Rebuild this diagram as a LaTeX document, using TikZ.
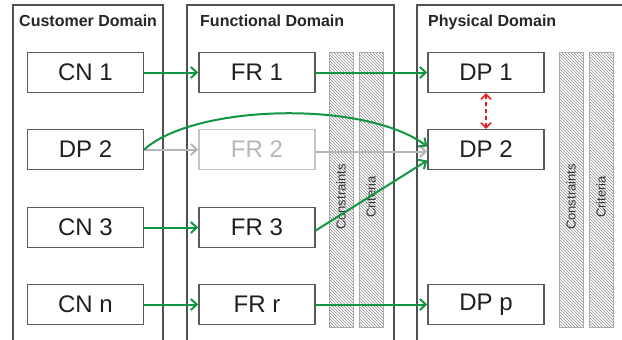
\documentclass[tikz,border=0pt]{standalone}
\usepackage{fontspec}
\setmainfont{Liberation Sans}
\usetikzlibrary{arrows.meta,patterns,calc}
\definecolor{grn}{RGB}{16,150,64}
\definecolor{framec}{RGB}{80,80,80}
\definecolor{boxc}{RGB}{90,90,90}
\definecolor{fade}{RGB}{182,182,182}
\definecolor{hatchc}{RGB}{140,140,140}
\definecolor{hatchb}{RGB}{170,170,170}
\definecolor{redc}{RGB}{230,30,30}
\begin{document}
\begin{tikzpicture}[x=1pt,y=-1pt,
  itembox/.style={draw=boxc, line width=1.4pt, minimum width=116pt, minimum height=40pt, inner sep=0pt, font=\fontsize{24}{28}\selectfont, text=black!88},
  fadebox/.style={itembox, draw=fade!80, text=fade},
  domtitle/.style={anchor=base west, font=\fontsize{16}{19}\selectfont\bfseries, text=black!85, inner sep=0pt},
  domframe/.style={draw=framec, line width=1.1pt},
  hatchbar/.style={draw=hatchb, line width=1pt, pattern=north west lines, pattern color=hatchc},
  barlabel/.style={rotate=90, font=\fontsize{13}{15}\selectfont, text=black!80, inner sep=0pt},
  flowline/.style={draw=grn, line width=2pt, -{Straight Barb[length=6pt,width=11pt]}},
  fadeflow/.style={draw=fade, line width=2pt, -{Straight Barb[length=6pt,width=11pt]}},
  redlink/.style={draw=redc, line width=1.6pt, dash pattern=on 4pt off 3pt, {Straight Barb[length=5pt,width=10pt]}-{Straight Barb[length=5pt,width=10pt]}}
]
\useasboundingbox (0,0) rectangle (622,340);

% domain frames
\draw[domframe] (13,340) |- (163,5) -- (163,340);
\draw[domframe] (187,340) |- (394,5) -- (394,340);
\draw[domframe] (417,340) |- (622,5);

\node[domtitle] (tc) at (19,26.5) {Customer Domain};
\node[domtitle] (tf) at (200,26.5) {Functional Domain};
\node[domtitle] (tp) at (428,26.5) {Physical Domain};

% hatched bars
\draw[hatchbar] (329,52) rectangle (353,327);
\draw[hatchbar] (359,52) rectangle (383,327);
\draw[hatchbar] (559,52) rectangle (583,327);
\draw[hatchbar] (589,52) rectangle (613,327);
\node[barlabel] (c1) at (341,197) {Constraints};
\node[barlabel] (k1) at (371,197) {Criteria};
\node[barlabel] (c2) at (571,197) {Constraints};
\node[barlabel] (k2) at (601,197) {Criteria};

% boxes
\node[itembox] (CN1) at (85.5,72.5) {CN 1};
\node[itembox] (DP2l) at (85.5,149.5) {DP 2};
\node[itembox] (CN3) at (85.5,227.5) {CN 3};
\node[itembox] (CNn) at (85.5,304.5) {CN n};

\node[itembox] (FR1) at (257,72.5) {FR 1};
\node[fadebox] (FR2) at (257,149.5) {FR 2};
\node[itembox] (FR3) at (257,227.5) {FR 3};
\node[itembox] (FRr) at (257,304.5) {FR r};

\node[itembox] (DP1) at (486,72.5) {DP 1};
\node[itembox] (DP2r) at (486,149.5) {DP 2};
\node[itembox] (DPp) at (486,304.5) {DP p};

% connectors
\draw[flowline] (CN1) -- (FR1);
\draw[flowline] (FR1) -- (DP1);
\draw[fadeflow] (DP2l) -- (FR2);
\draw[fadeflow] ($(FR2.east)+(0,2)$) -- ($(DP2r.west)+(0,2)$);
\draw[flowline] (DP2l.east) .. controls (195,104) and (365,100) .. ($(DP2r.west)+(0,-3)$);
\draw[flowline] (CN3) -- (FR3);
\draw[flowline] ($(FR3.east)+(0,3)$) -- ($(DP2r.west)+(0,11)$);
\draw[flowline] (CNn) -- (FRr);
\draw[flowline] (FRr) -- (DPp);
\draw[redlink] (DP1.south) -- (DP2r.north);
\end{tikzpicture}
\end{document}
